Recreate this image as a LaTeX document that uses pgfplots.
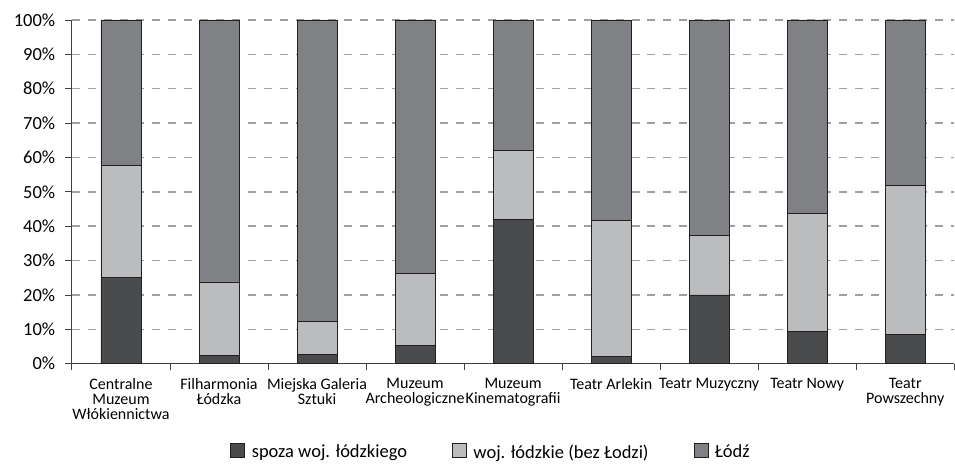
\documentclass[border=0pt]{standalone}
\usepackage{pgfplots}
\pgfplotsset{compat=1.18}
\usepackage{fontspec}
\setmainfont{Carlito}
\definecolor{cdark}{HTML}{4A4B4D}
\definecolor{clight}{HTML}{BBBCBE}
\definecolor{cmid}{HTML}{808184}
\definecolor{cgrid}{HTML}{A0A0A0}
\definecolor{cedge}{HTML}{231F20}
\begin{document}
\fontsize{18.5pt}{20pt}\selectfont
\begin{tikzpicture}
\begin{axis}[
  at={(0,0)}, anchor=south west,
  scale only axis, width=883pt, height=344pt,
  ybar stacked, bar width=40pt,
  xmin=-0.5, xmax=8.5, ymin=0, ymax=100,
  axis x line*=bottom, axis y line*=left,
  axis line style={draw=black!75, line width=0.9pt},
  xtick={-0.5,0.5,...,8.5},
  x tick label as interval,
  xticklabels={{Centralne\\Muzeum\\Włókiennictwa},{Filharmonia\\Łódzka},{Miejska Galeria\\Sztuki},{Muzeum\\Archeologiczne},{Muzeum\\Kinematografii},{Teatr Arlekin},{Teatr Muzyczny},{Teatr Nowy},{Teatr\\Powszechny}},
  xticklabel style={align=center, font=\fontsize{16pt}{15pt}\selectfont, yshift=-2pt},
  ytick={0,10,...,100},
  yticklabel={\pgfmathprintnumber{\tick}\%},
  yticklabel style={font=\fontsize{18.5pt}{20pt}\selectfont, xshift=-4pt},
  /pgf/number format/assume math mode=true,
  tick align=outside, major tick length=6.5pt,
  tick style={draw=black!75, line width=0.9pt},
  ymajorgrids, grid style={cgrid, line width=1.5pt, dash pattern=on 8pt off 8pt},
  axis on top=false,
  legend columns=3,
  legend style={draw=none, at={(0.475,-0.259)}, anchor=center, font=\fontsize{18.5pt}{20pt}\selectfont,
    /tikz/every even column/.append style={column sep=43pt}},
  legend image code/.code={\draw[#1, draw=cedge, line width=0.6pt] (0pt,-5pt) rectangle (14pt,9pt); \path[draw=none,fill=none] (0pt,0pt) -- (19pt,0pt);},
  every axis plot/.append style={draw=cedge, line width=0.8pt},
]
\addplot[fill=cdark] coordinates {(0,25.0) (1,2.4) (2,2.6) (3,5.2) (4,42.0) (5,2.0) (6,20.0) (7,9.5) (8,8.4)};
\addplot[fill=clight] coordinates {(0,32.7) (1,21.4) (2,9.7) (3,21.1) (4,20.1) (5,39.6) (6,17.4) (7,34.1) (8,43.5)};
\addplot[fill=cmid] coordinates {(0,42.3) (1,76.2) (2,87.7) (3,73.7) (4,37.9) (5,58.4) (6,62.6) (7,56.4) (8,48.1)};
\legend{spoza woj. łódzkiego, woj. łódzkie (bez Łodzi), Łódź}
\end{axis}
\path[use as bounding box] (-72pt,-93pt) rectangle (883pt,364pt);
\end{tikzpicture}
\end{document}
